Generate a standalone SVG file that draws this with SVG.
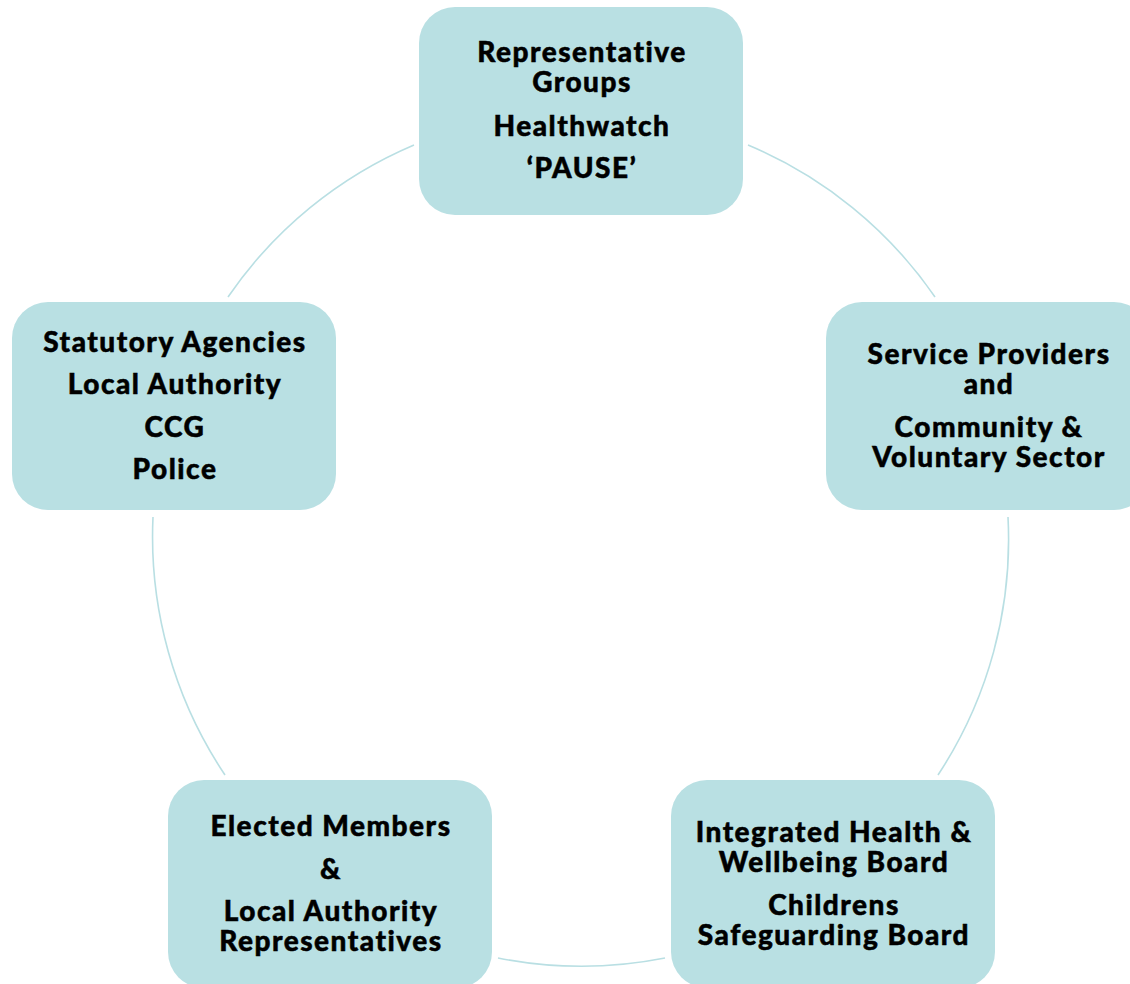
<svg xmlns="http://www.w3.org/2000/svg" width="1130" height="984" viewBox="0 0 1130 984">
<style>
.box{fill:#b9e0e3;}
.arc{fill:none;stroke:#b9dfe3;stroke-width:1.6;}
text{font-family:Lato,"Open Sans","Liberation Sans",sans-serif;font-weight:900;font-size:28px;letter-spacing:1.5px;fill:#000;stroke:#000;stroke-width:0.5px;text-anchor:middle;}
</style>
<rect width="1130" height="984" fill="#fff"/>
<g id="connectors">
<path class="arc" d="M414,145 A428,428 0 0 0 228,297"/>
<path class="arc" d="M748,145 A428,428 0 0 1 935,297"/>
<path class="arc" d="M1008,517 A428,428 0 0 1 938,775"/>
<path class="arc" d="M665,958 A428,428 0 0 1 498,958"/>
<path class="arc" d="M225,775 A428,428 0 0 1 153,517"/>
</g>
<g id="node-top">
<rect class="box" x="419" y="7" width="324" height="208" rx="36"/>
<text x="582" y="62">Representative</text>
<text x="582" y="92">Groups</text>
<text x="582" y="136">Healthwatch</text>
<text x="582" y="178">‘PAUSE’</text>
</g>
<g id="node-right">
<rect class="box" x="826" y="302" width="324" height="208" rx="36"/>
<text x="989" y="364">Service Providers</text>
<text x="989" y="394">and</text>
<text x="989" y="437">Community &amp;</text>
<text x="989" y="467">Voluntary Sector</text>
</g>
<g id="node-bottom-right">
<rect class="box" x="671" y="780" width="324" height="208" rx="36"/>
<text x="834" y="842">Integrated Health &amp;</text>
<text x="834" y="872">Wellbeing Board</text>
<text x="834" y="915">Childrens</text>
<text x="834" y="945">Safeguarding Board</text>
</g>
<g id="node-bottom-left">
<rect class="box" x="168" y="780" width="324" height="208" rx="36"/>
<text x="331" y="836">Elected Members</text>
<text x="331" y="879">&amp;</text>
<text x="331" y="921">Local Authority</text>
<text x="331" y="951">Representatives</text>
</g>
<g id="node-left">
<rect class="box" x="12" y="302" width="324" height="208" rx="36"/>
<text x="175" y="352">Statutory Agencies</text>
<text x="175" y="394">Local Authority</text>
<text x="175" y="437">CCG</text>
<text x="175" y="479">Police</text>
</g>
</svg>
